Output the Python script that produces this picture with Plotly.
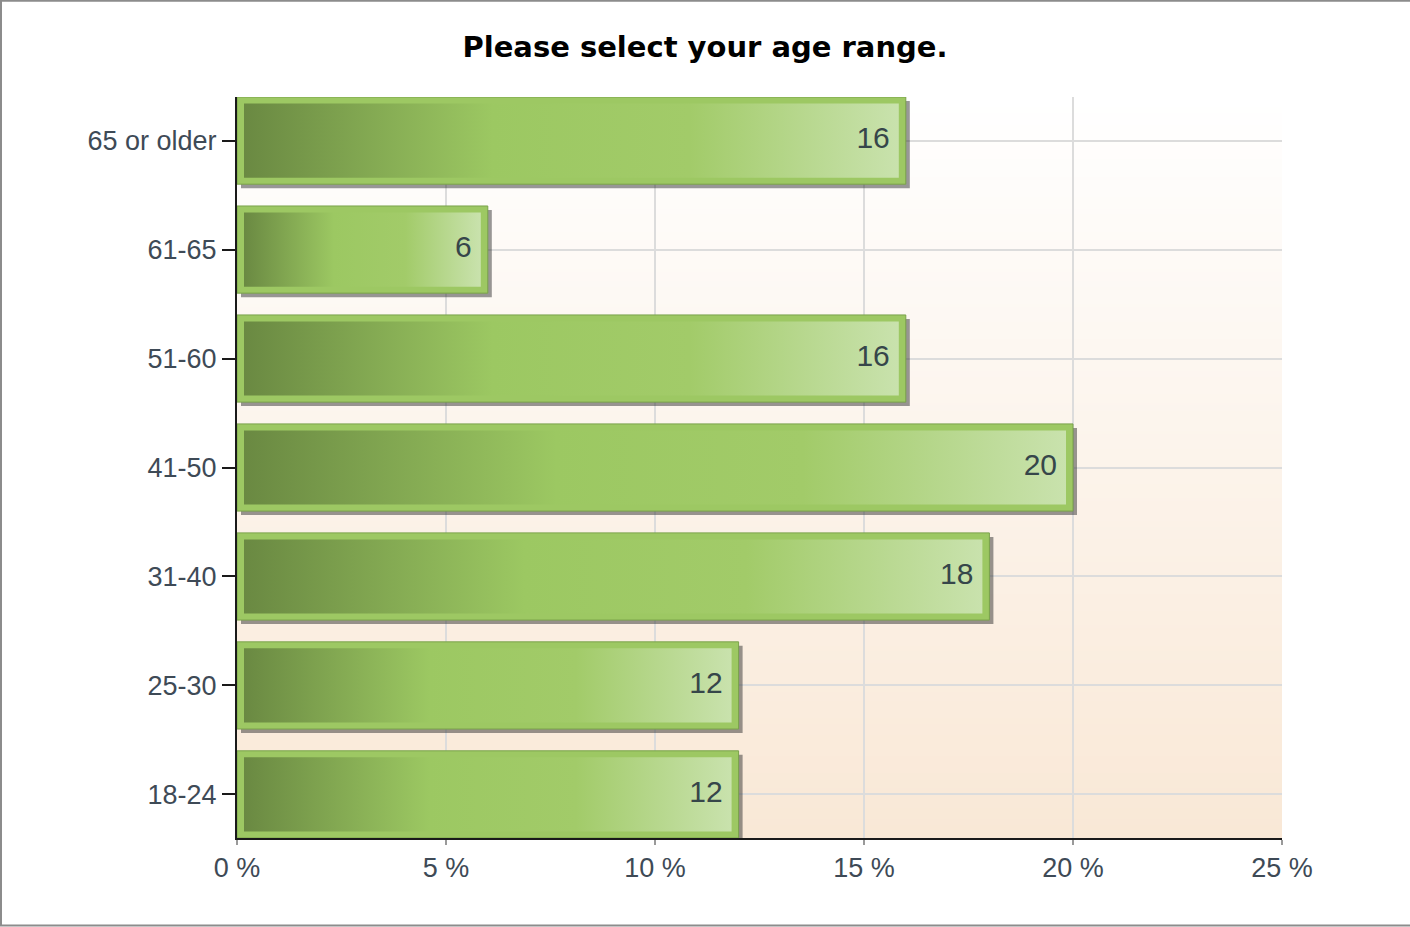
import zlib
import struct
import base64
import plotly.graph_objects as go

# ---------------- data ----------------
categories = ["18-24", "25-30", "31-40", "41-50", "51-60", "61-65", "65 or older"]
percent = [12, 12, 18, 20, 16, 6, 16]
x_tick_values = [0, 5, 10, 15, 20, 25]
x_tick_labels = ["0 %", "5 %", "10 %", "15 %", "20 %", "25 %"]
title_text = "Please select your age range."

# ---------------- geometry / style ----------------
W, H = 1410, 927
M_L, M_R, M_T, M_B = 237, 128, 97, 89
PLOT_W = W - M_L - M_R
PLOT_H = H - M_T - M_B
X_RANGE = [0, 25]
Y_RANGE = [-0.4, len(categories) - 0.6]
PX_PER_X = PLOT_W / (X_RANGE[1] - X_RANGE[0])
PX_PER_Y = PLOT_H / (Y_RANGE[1] - Y_RANGE[0])
BAR_W = 0.8
INSET_X = 7 / PX_PER_X
INSET_Y = 6.5 / PX_PER_Y
SHADOW_DX = 4 / PX_PER_X
SHADOW_DY = 4 / PX_PER_Y
LABEL_PAD = 16 / PX_PER_X
GRID_COLOR = "#dcdcdc"

ypos = list(range(len(categories)))


def gradient_png(top, bottom, n=256):
    raw = b"".join(
        b"\x00" + bytes(round(a + (b - a) * i / (n - 1)) for a, b in zip(top, bottom))
        for i in range(n)
    )

    def chunk(tag, data):
        c = struct.pack(">I", len(data)) + tag + data
        return c + struct.pack(">I", zlib.crc32(tag + data) & 0xFFFFFFFF)

    png = (
        b"\x89PNG\r\n\x1a\n"
        + chunk(b"IHDR", struct.pack(">IIBBBBB", 1, n, 8, 2, 0, 0, 0))
        + chunk(b"IDAT", zlib.compress(raw))
        + chunk(b"IEND", b"")
    )
    return "data:image/png;base64," + base64.b64encode(png).decode()


fig = go.Figure()

# shadow
fig.add_trace(go.Bar(
    x=percent, y=ypos, base=SHADOW_DX, orientation="h", width=BAR_W,
    offset=-BAR_W / 2 - SHADOW_DY,
    marker=dict(color="rgba(50,50,50,0.5)", line=dict(width=0)),
    hoverinfo="skip", showlegend=False,
))

# outer bar
fig.add_trace(go.Bar(
    x=percent, y=ypos, orientation="h", width=BAR_W,
    marker=dict(color="#9dc863", line=dict(color="#7aa24b", width=1)),
    hovertemplate="%{x} %<extra></extra>", showlegend=False,
))

# inner gradient panels
grad_scale = [
    [0.0, "#6a8942"],
    [0.38, "#9cc862"],
    [0.68, "#a2cb69"],
    [1.0, "#c9e2ad"],
]
for yi, v in zip(ypos, percent):
    x0, x1 = INSET_X, v - INSET_X
    y0, y1 = yi - BAR_W / 2 + INSET_Y, yi + BAR_W / 2 - INSET_Y
    fig.add_trace(go.Scatter(
        x=[x0, x1, x1, x0, x0], y=[y0, y0, y1, y1, y0],
        mode="lines", fill="toself", line=dict(width=0),
        fillgradient=dict(type="horizontal", colorscale=grad_scale),
        hoverinfo="skip", showlegend=False,
    ))

# value labels
fig.add_trace(go.Scatter(
    x=[v - LABEL_PAD for v in percent], y=ypos, mode="text",
    text=[str(v) for v in percent], textposition="middle left",
    textfont=dict(family="Liberation Sans, Arial, sans-serif", size=30, color="#36464a"),
    hoverinfo="skip", showlegend=False,
))


def pxx(px):
    return (px - M_L) / PLOT_W


def pxy(py):
    return (H - M_B - py) / PLOT_H


fig.update_layout(
    width=W, height=H,
    margin=dict(l=M_L, r=M_R, t=M_T, b=M_B, pad=0),
    paper_bgcolor="white",
    plot_bgcolor="rgba(0,0,0,0)",
    barmode="overlay",
    title=dict(
        text=title_text, x=0.5, xref="container", xanchor="center",
        y=1 - 47 / H, yanchor="middle",
        font=dict(family="DejaVu Sans, Verdana, sans-serif", size=29, color="#000000", weight="bold"),
    ),
    xaxis=dict(
        range=X_RANGE, tickvals=x_tick_values, ticktext=x_tick_labels,
        showgrid=True, gridcolor=GRID_COLOR, gridwidth=2,
        showline=True, linecolor="#1a1a1a", linewidth=2,
        ticks="outside", ticklen=5, tickwidth=2, tickcolor="#9a9a9a",
        tickfont=dict(family="Liberation Sans, Arial, sans-serif", size=27, color="#3e4a56"),
        zeroline=False, fixedrange=True,
    ),
    yaxis=dict(
        range=Y_RANGE, tickvals=ypos, ticktext=categories,
        showgrid=True, gridcolor=GRID_COLOR, gridwidth=2,
        showline=True, linecolor="#1a1a1a", linewidth=2,
        ticks="outside", ticklen=13, tickwidth=2, tickcolor="#1a1a1a",
        ticklabelstandoff=0,
        tickfont=dict(family="Liberation Sans, Arial, sans-serif", size=27, color="#3e4a56"),
        zeroline=False, fixedrange=True,
    ),
    images=[dict(
        source=gradient_png((255, 255, 255), (249, 232, 214)),
        xref="x", yref="y", x=X_RANGE[0], y=Y_RANGE[1],
        sizex=X_RANGE[1] - X_RANGE[0], sizey=Y_RANGE[1] - Y_RANGE[0],
        xanchor="left", yanchor="top", sizing="stretch", layer="below",
    )],
    shapes=[
        dict(
            type="line", xref="x", yref="paper",
            x0=X_RANGE[1] - 1.2 / PX_PER_X, x1=X_RANGE[1] - 1.2 / PX_PER_X, y0=0, y1=1,
            line=dict(color=GRID_COLOR, width=2.5), layer="between",
        ),
        dict(
            type="rect", xref="paper", yref="paper",
            x0=pxx(1), x1=pxx(W + 10), y0=pxy(925.5), y1=pxy(0.8),
            line=dict(color="#8c8c8c", width=2), fillcolor="rgba(0,0,0,0)", layer="above",
        ),
    ],
)

fig.write_html(
    "out.html",
    config={"displayModeBar": False},
    post_script="document.body.style.margin='0';document.body.style.overflow='hidden';",
)
